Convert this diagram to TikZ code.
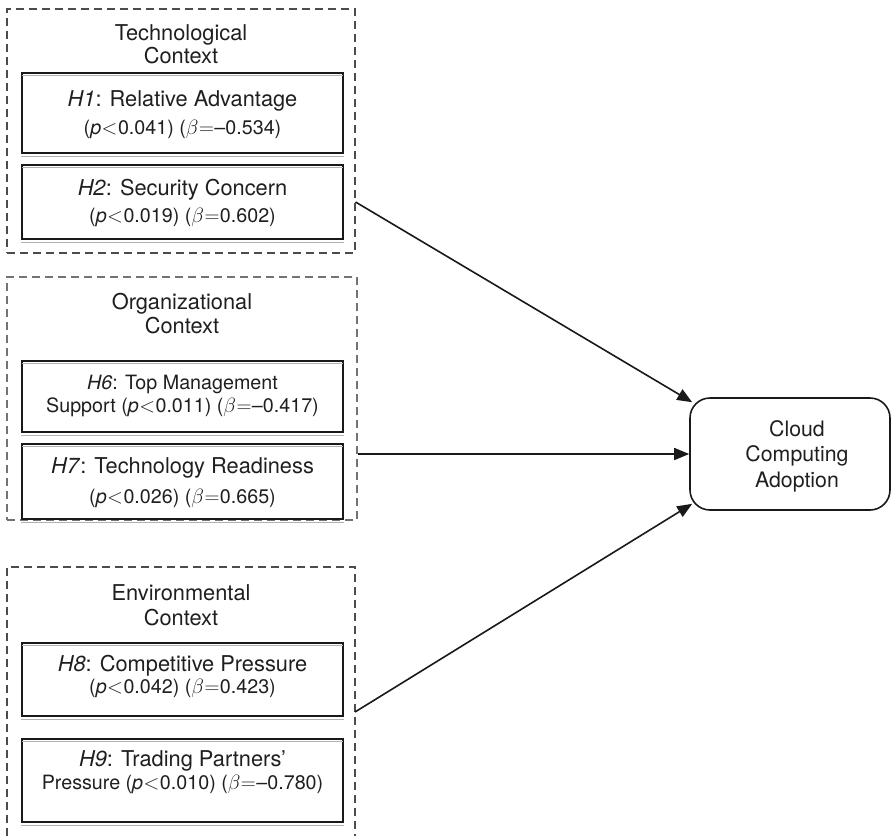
\documentclass[tikz,border=0pt]{standalone}
\usepackage{fontspec}
\setmainfont{TeX Gyre Heros}
\usetikzlibrary{arrows.meta,calc}
\newcommand\tsz{\fontsize{21.8}{25}\selectfont}
\newcommand\ssz{\fontsize{19.7}{23}\selectfont}
\newcommand\lt{\kern0.5pt$<$\kern0.5pt}
\newcommand\eqs{\kern0.5pt$=$\kern0.5pt}
\begin{document}
\begin{tikzpicture}[x=1pt,y=-1pt,
  ctxbox/.style={draw=black!70, line width=1.1pt, dash pattern=on 8pt off 5pt, inner sep=0pt},
  hbox/.style={draw=black!90, line width=1.5pt, inner sep=0pt, minimum width=321pt},
  shadeline/.style={draw=black!30, line width=1pt},
  lab/.style={anchor=base, inner sep=0pt, text=black!88, font=\tsz},
  stat/.style={lab, font=\ssz},
  arr/.style={draw=black!90, line width=1.6pt, -{Triangle[length=15pt,width=12pt]}}]
\useasboundingbox (0,0) rectangle (892,836);

% context frames
\node[ctxbox, minimum width=348pt, minimum height=244pt] (tech) at (181,131) {};
\node[ctxbox, draw=black!55, minimum width=350pt, minimum height=243pt] (org) at (182,398.5) {};
\coordinate (envTL) at (7,567);
\coordinate (envTR) at (355,567);
\draw[ctxbox] (7,836) -- (envTL) -- (envTR) -- (355,836);

% hypothesis boxes
\node[hbox, minimum height=80pt] (h1) at (182.5,113) {};
\node[hbox, minimum height=74pt] (h2) at (182.5,202) {};
\node[hbox, minimum height=71pt] (h6) at (182.5,396.5) {};
\node[hbox, minimum height=75pt] (h7) at (182.5,481.5) {};
\node[hbox, minimum height=73pt] (h8) at (182.5,679.5) {};
\node[hbox, minimum height=83pt] (h9) at (182.5,780.5) {};
\foreach \n in {h1,h2,h6,h7,h8,h9}{
  \draw[shadeline] ([yshift=-2.8pt,xshift=1pt]\n.north west) -- ([yshift=-2.8pt,xshift=-1pt]\n.north east);
  \draw[shadeline] ([yshift=-2.8pt]\n.south west) -- ([yshift=-2.8pt]\n.south east);
}

% context labels
\node[lab] (techA) at (181,40) {Technological};
\node[lab] (techB) at (181,63) {Context};
\node[lab] (orgA) at (182,309) {Organizational};
\node[lab] (orgB) at (182,333) {Context};
\node[lab] (envA) at (181,600) {Environmental};
\node[lab] (envB) at (181,625) {Context};

% hypothesis texts
\node[lab] (h1a) at (182.5,106) {\textit{H1}: Relative Advantage};
\node[stat] (h1b) at (182.5,134) {(\textit{p}\lt0.041) ($\beta$\eqs–0.534)};
\node[lab] (h2a) at (182.5,195) {\textit{H2}: Security Concern};
\node[stat] (h2b) at (182.5,222) {(\textit{p}\lt0.019) ($\beta$\eqs0.602)};
\node[lab, font=\ssz] (h6a) at (182.5,389) {\textit{H6}: Top Management};
\node[stat] (h6b) at (182.5,412) {Support (\textit{p}\lt0.011) ($\beta$\eqs–0.417)};
\node[lab] (h7a) at (182.5,473) {\textit{H7}: Technology Readiness};
\node[stat] (h7b) at (182.5,503) {(\textit{p}\lt0.026) ($\beta$\eqs0.665)};
\node[lab] (h8a) at (182.5,671) {\textit{H8}: Competitive Pressure};
\node[stat] (h8b) at (182.5,693) {(\textit{p}\lt0.042) ($\beta$\eqs0.423)};
\node[lab] (h9a) at (182.5,766) {\textit{H9}: Trading Partners’};
\node[stat] (h9b) at (182.5,789) {Pressure (\textit{p}\lt0.010) ($\beta$\eqs–0.780)};

% outcome
\node[draw=black!90, line width=1.6pt, rounded corners=20pt, minimum width=200pt, minimum height=112pt] (cloud) at (790,454) {};
\node[lab, font=\fontsize{21.3}{25}\selectfont] (cA) at (797,436) {Cloud};
\node[lab, font=\fontsize{21.3}{25}\selectfont] (cB) at (797,461.5) {Computing};
\node[lab, font=\fontsize{21.3}{25}\selectfont] (cC) at (797,487) {Adoption};

% connectors
\coordinate (envR) at (355,712);
\draw[arr] (tech.east |- h2.center) -- ($(cloud.north west)+(3,5)$);
\draw[arr] (org.east |- cloud.west) -- (cloud.west);
\draw[arr] (envR) -- ($(cloud.south west)+(3,-7)$);
\end{tikzpicture}
\end{document}
